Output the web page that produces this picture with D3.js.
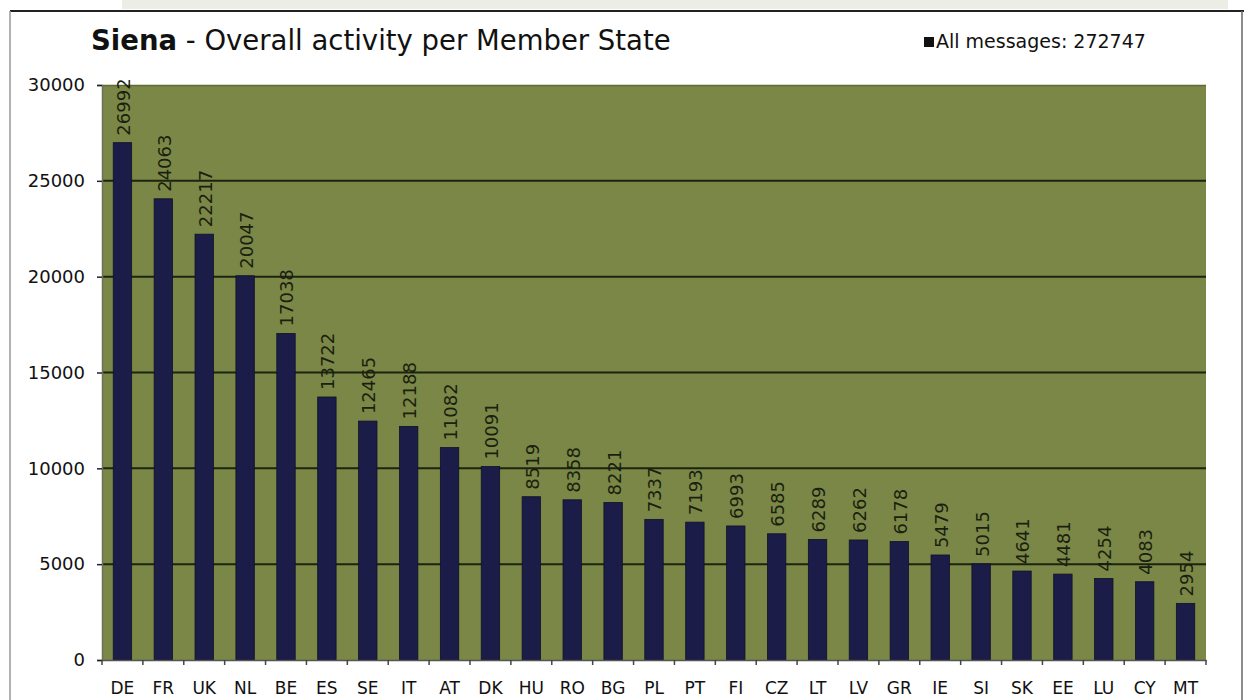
<!DOCTYPE html>
<html>
<head>
<meta charset="utf-8">
<script src="https://cdn.jsdelivr.net/npm/d3@7"></script>
<style>
  html, body { margin: 0; padding: 0; background: #ffffff; }
  svg { display: block; }
  text { font-family: "DejaVu Sans", Verdana, sans-serif; }
</style>
</head>
<body>
<script>
const categories = ["DE","FR","UK","NL","BE","ES","SE","IT","AT","DK","HU","RO","BG","PL","PT","FI","CZ","LT","LV","GR","IE","SI","SK","EE","LU","CY","MT"];
const values = [26992,24063,22217,20047,17038,13722,12465,12188,11082,10091,8519,8358,8221,7337,7193,6993,6585,6289,6262,6178,5479,5015,4641,4481,4254,4083,2954];
const yTicks = [0,5000,10000,15000,20000,25000,30000];
const titleBold = "Siena";
const titleRest = " - Overall activity per Member State";
const legendLabel = "All messages: 272747";

const W = 1244, H = 700;
const margin = {left: 102, right: W - 1206, top: 85, bottom: H - 660};
const FONT = "'DejaVu Sans', Verdana, sans-serif";

const svg = d3.select("body").append("svg").attr("width", W).attr("height", H);

// scan shading strip at top
svg.append("rect").attr("x", 122).attr("y", 0).attr("width", 1106).attr("height", 9).attr("fill", "#eceee6");

// frame
svg.append("line").attr("x1", 10).attr("x2", W).attr("y1", 11).attr("y2", 11).attr("stroke", "#222").attr("stroke-width", 2);
svg.append("line").attr("x1", 10).attr("x2", 10).attr("y1", 11).attr("y2", H).attr("stroke", "#999").attr("stroke-width", 1.5);
svg.append("line").attr("x1", 1242).attr("x2", 1242).attr("y1", 11).attr("y2", H).attr("stroke", "#666").attr("stroke-width", 1.5);

const x = d3.scaleBand().domain(categories).range([margin.left, W - margin.right]).paddingInner(0).paddingOuter(0);
const y = d3.scaleLinear().domain([0, 30000]).range([H - margin.bottom, margin.top]);

// plot background
svg.append("rect")
  .attr("x", margin.left).attr("y", y(30000))
  .attr("width", x.range()[1] - margin.left).attr("height", y(0) - y(30000))
  .attr("fill", "#7a8746");
svg.append("line").attr("x1", margin.left).attr("x2", x.range()[1]).attr("y1", y(30000) + 0.5).attr("y2", y(30000) + 0.5)
  .attr("stroke", "#5d6a34").attr("stroke-width", 1.5);

// gridlines
svg.append("g").selectAll("line").data(yTicks.filter(d => d > 0 && d < 30000)).join("line")
  .attr("x1", margin.left).attr("x2", x.range()[1])
  .attr("y1", d => y(d)).attr("y2", d => y(d))
  .attr("stroke", "#1c2410").attr("stroke-width", 2);

// bars
const bw = x.bandwidth() * 0.45;
svg.append("g").selectAll("rect").data(values).join("rect")
  .attr("x", (d, i) => x(categories[i]) + (x.bandwidth() - bw) / 2)
  .attr("y", d => y(d))
  .attr("width", bw)
  .attr("height", d => y(0) - y(d))
  .attr("fill", "#1b1c48")
  .attr("stroke", "#10112a").attr("stroke-width", 0.8);

// value labels
svg.append("g").selectAll("text").data(values).join("text")
  .attr("transform", (d, i) => `translate(${x(categories[i]) + x.bandwidth() / 2 + 1},${y(d) - 7}) rotate(-90)`)
  .attr("dy", "0.36em")
  .attr("text-anchor", "start")
  .attr("font-size", 18)
  .attr("fill", "#1a1f10")
  .text(d => d);

// y axis
const yAxis = d3.axisLeft(y).tickValues(yTicks).tickSize(5).tickPadding(12).tickFormat(d3.format("d"));
const gy = svg.append("g").attr("transform", `translate(${margin.left},0)`).call(yAxis);
gy.select(".domain").attr("stroke", "#6b6f60").attr("stroke-width", 1.5);
gy.selectAll(".tick line").attr("stroke", "#222").attr("stroke-width", 1.5);
gy.selectAll(".tick text").attr("font-size", 18).attr("fill", "#111").style("font-family", FONT);

// x axis
const xAxis = d3.axisBottom(x).tickSize(0).tickPadding(22);
const gx = svg.append("g").attr("transform", `translate(0,${y(0)})`).call(xAxis);
gx.select(".domain").attr("stroke", "#555").attr("stroke-width", 1.5);
gx.selectAll(".tick text").attr("font-size", 17).attr("fill", "#111").style("font-family", FONT);
// x tick marks at band boundaries
const boundaries = categories.map(c => x(c)).concat([x.range()[1]]);
svg.append("g").selectAll("line").data(boundaries).join("line")
  .attr("x1", d => d).attr("x2", d => d)
  .attr("y1", y(0)).attr("y2", y(0) + 5)
  .attr("stroke", "#444").attr("stroke-width", 1.5);

// title
const title = svg.append("text").attr("x", 91).attr("y", 50).attr("font-size", 27.5).attr("fill", "#111");
title.append("tspan").attr("font-weight", "bold").text(titleBold);
title.append("tspan").text(titleRest);

// legend
svg.append("rect").attr("x", 924).attr("y", 37).attr("width", 10).attr("height", 10).attr("fill", "#111");
svg.append("text").attr("x", 936).attr("y", 48).attr("font-size", 19).attr("fill", "#111").text(legendLabel);
</script>
</body>
</html>
